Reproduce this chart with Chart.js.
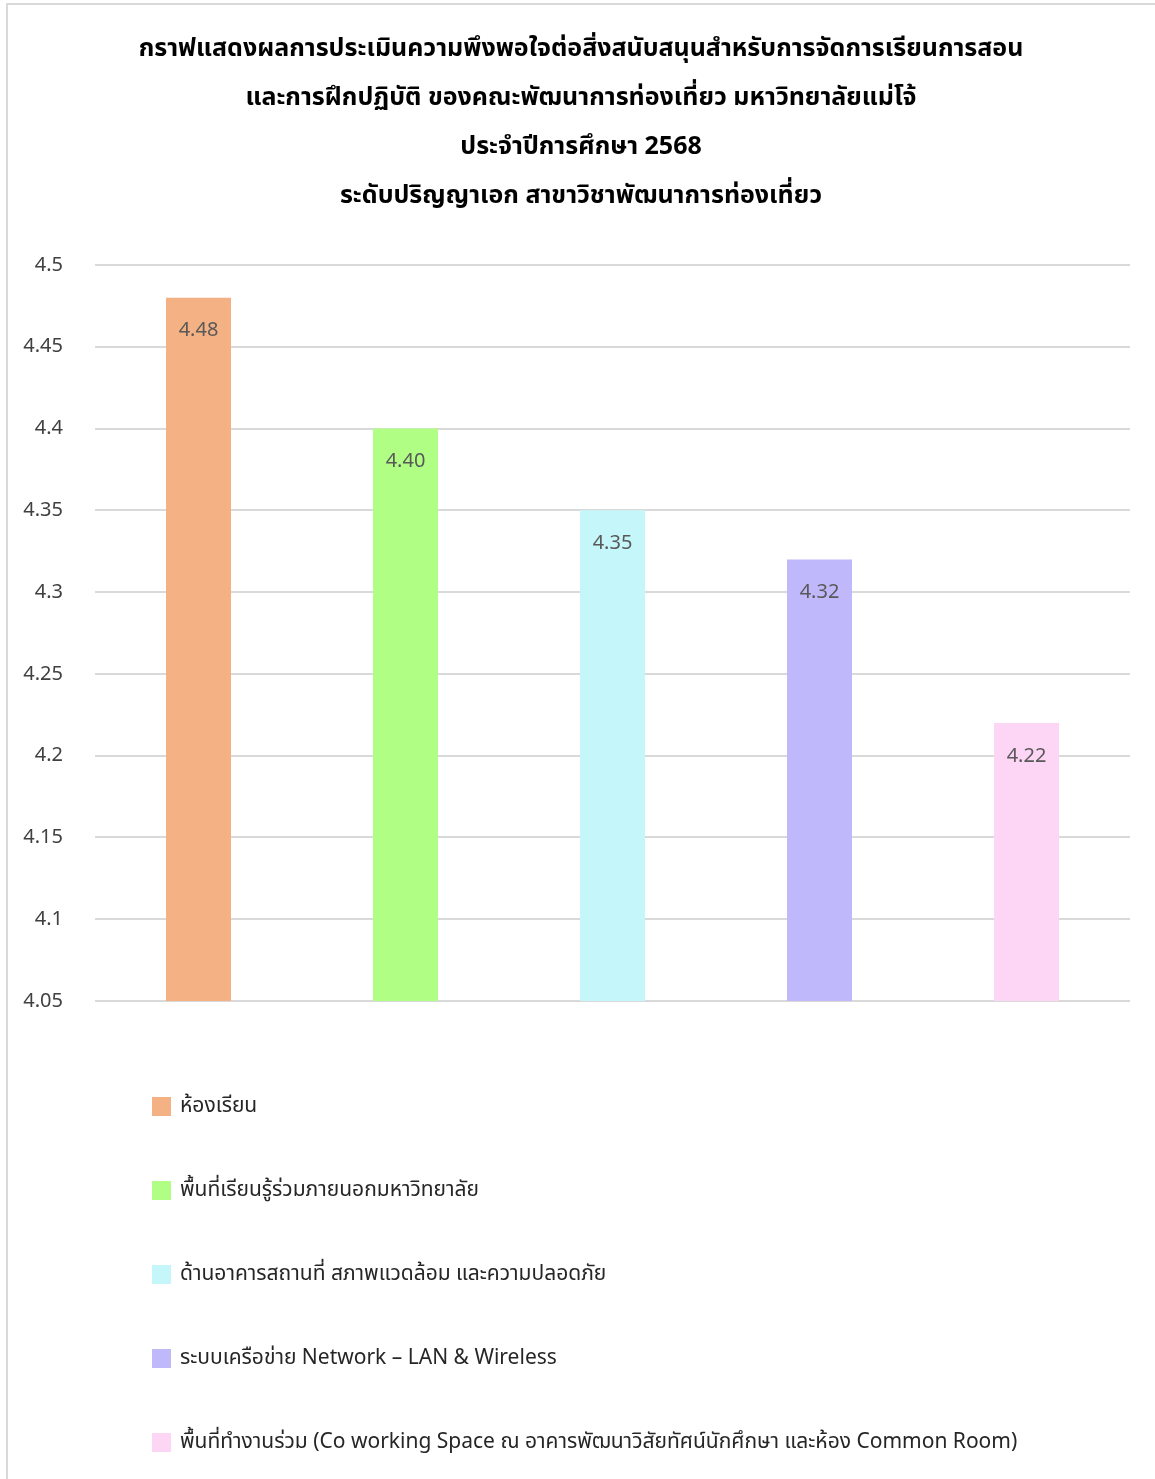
<!DOCTYPE html>
<html>
<head>
<meta charset="utf-8">
<script src="https://cdn.jsdelivr.net/npm/chart.js@4.4.1/dist/chart.umd.min.js"></script>
<style>
  html, body { margin: 0; padding: 0; background: #fff; }
  #wrap { position: relative; width: 1155px; height: 1479px; }
  #frame { position: absolute; left: 6px; top: 3px; right: -4px; bottom: -4px; border-left: 2px solid #d9d9d9; border-top: 2px solid #d9d9d9; }
  canvas { position: absolute; left: 0; top: 0; }
</style>
</head>
<body>
<div id="wrap">
  <div id="frame"></div>
  <canvas id="chart" width="1155" height="1479"></canvas>
</div>
<script>
const titleLines = [
  "กราฟแสดงผลการประเมินความพึงพอใจต่อสิ่งสนับสนุนสำหรับการจัดการเรียนการสอน",
  "และการฝึกปฏิบัติ ของคณะพัฒนาการท่องเที่ยว มหาวิทยาลัยแม่โจ้",
  "ประจำปีการศึกษา 2568",
  "ระดับปริญญาเอก สาขาวิชาพัฒนาการท่องเที่ยว"
];
const categories = [
  "ห้องเรียน",
  "พื้นที่เรียนรู้ร่วมภายนอกมหาวิทยาลัย",
  "ด้านอาคารสถานที่ สภาพแวดล้อม และความปลอดภัย",
  "ระบบเครือข่าย Network – LAN & Wireless",
  "พื้นที่ทำงานร่วม (Co working Space ณ อาคารพัฒนาวิสัยทัศน์นักศึกษา และห้อง Common Room)"
];
const scores = [4.48, 4.40, 4.35, 4.32, 4.22];
const barColors = ["#f4b183", "#b0ff84", "#c5f7fa", "#bfb8fb", "#fdd5f5"];
const yMin = 4.05;
const yMax = 4.5;
const yStep = 0.05;

const FONT = "'Noto Sans', 'Noto Sans Thai', Tahoma, sans-serif";

// title block, centred a little left of the page middle like the original
const titleBlock = {
  id: "titleBlock",
  afterDraw(chart) {
    const ctx = chart.ctx;
    ctx.save();
    ctx.font = "bold 25px " + FONT;
    ctx.fillStyle = "#000";
    ctx.textAlign = "center";
    ctx.textBaseline = "middle";
    titleLines.forEach((line, i) => {
      ctx.fillText(line, 581, 49 + i * 49);
    });
    ctx.restore();
  }
};

// value labels inside the top of each bar
const valueLabels = {
  id: "valueLabels",
  afterDatasetsDraw(chart) {
    const ctx = chart.ctx;
    const meta = chart.getDatasetMeta(0);
    ctx.save();
    ctx.font = "20px " + FONT;
    ctx.fillStyle = "#595959";
    ctx.textAlign = "center";
    ctx.textBaseline = "middle";
    meta.data.forEach((bar, i) => {
      ctx.fillText(scores[i].toFixed(2), bar.x, bar.y + 33);
    });
    ctx.restore();
  }
};

// one legend entry per row, below the plot
const rowLegend = {
  id: "rowLegend",
  afterDraw(chart) {
    const ctx = chart.ctx;
    const area = chart.chartArea;
    ctx.save();
    ctx.font = "21px " + FONT;
    ctx.textBaseline = "middle";
    categories.forEach((name, i) => {
      const y = area.bottom + 105 + i * 84;
      ctx.fillStyle = barColors[i];
      ctx.fillRect(152, y - 9, 19, 19);
      ctx.fillStyle = "#262626";
      ctx.fillText(name, 180, y);
    });
    ctx.restore();
  }
};

new Chart(document.getElementById("chart"), {
  type: "bar",
  data: {
    labels: categories,
    datasets: [{
      data: scores,
      backgroundColor: barColors,
      borderWidth: 0,
      categoryPercentage: 1,
      barPercentage: 0.314
    }]
  },
  options: {
    responsive: false,
    animation: false,
    layout: { padding: { left: 0, right: 25, top: 265, bottom: 470 } },
    plugins: {
      legend: { display: false },
      tooltip: { enabled: false },
      title: { display: false }
    },
    scales: {
      x: {
        ticks: { display: false },
        grid: { display: false },
        border: { display: false }
      },
      y: {
        min: yMin,
        max: yMax,
        ticks: {
          stepSize: yStep,
          padding: 32,
          color: "#404040",
          font: { family: FONT, size: 20 },
          callback: (v) => String(Number(v.toFixed(2)))
        },
        grid: { color: "#d9d9d9", lineWidth: 2, drawTicks: false },
        border: { display: false },
        afterFit(scale) { scale.width = 95; }
      }
    }
  },
  plugins: [titleBlock, valueLabels, rowLegend]
});
</script>
</body>
</html>
